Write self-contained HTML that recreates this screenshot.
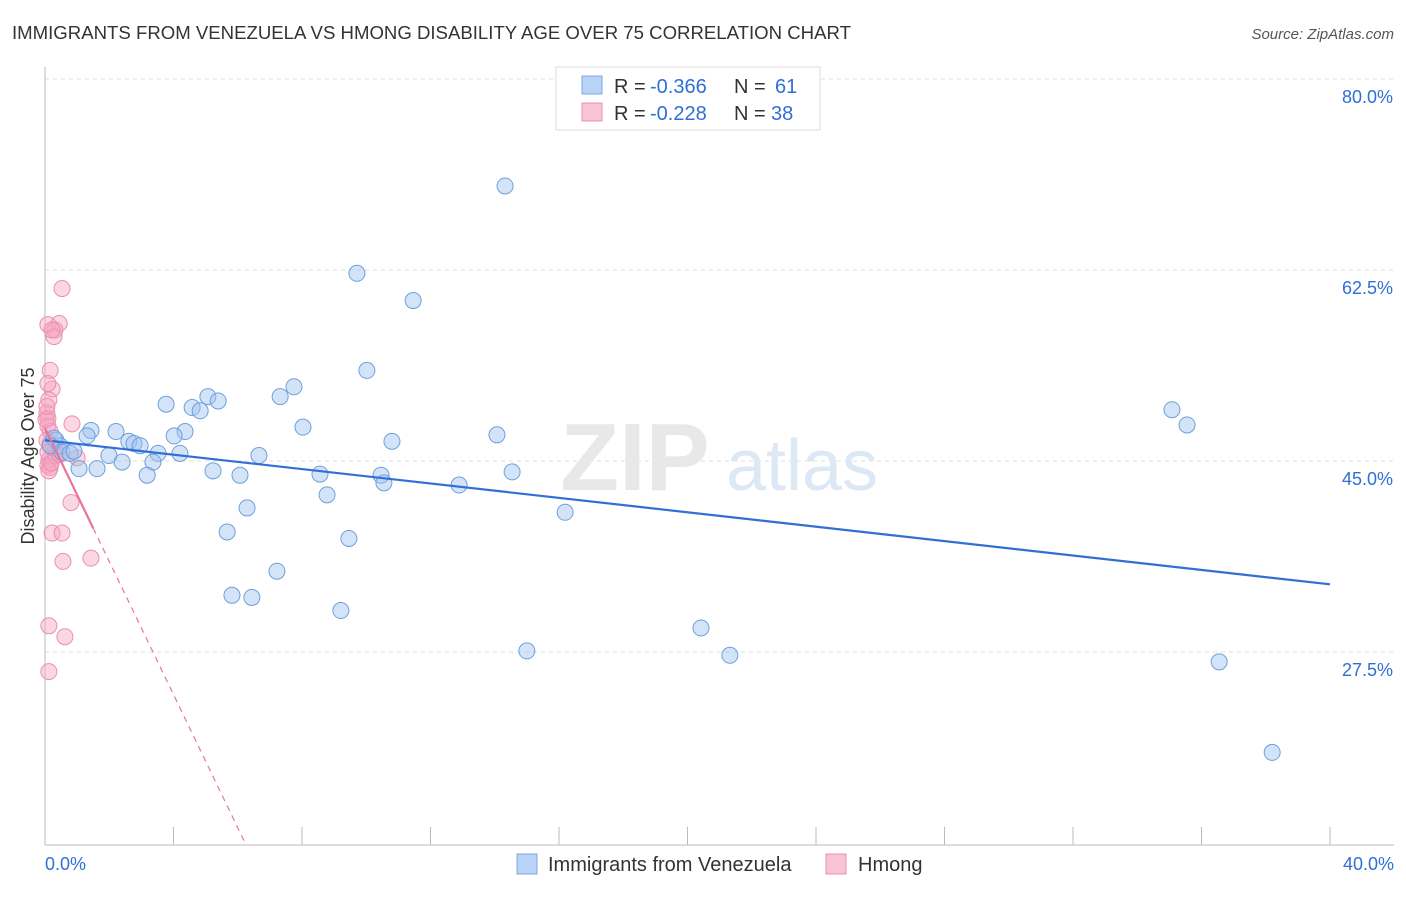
<!DOCTYPE html>
<html><head><meta charset="utf-8">
<style>
body{margin:0;background:#fff;font-family:"Liberation Sans",sans-serif;}
svg text{font-family:"Liberation Sans",sans-serif;}
</style></head>
<body>
<svg id="chart" width="1406" height="892" xmlns="http://www.w3.org/2000/svg">
<text x="12" y="39" font-size="18.6" fill="#333">IMMIGRANTS FROM VENEZUELA VS HMONG DISABILITY AGE OVER 75 CORRELATION CHART</text>
<text x="1394" y="39" font-size="15" fill="#555" font-style="italic" text-anchor="end">Source: ZipAtlas.com</text>
<text x="0" y="0" font-size="18" fill="#333" text-anchor="middle" transform="translate(34,456) rotate(-90)">Disability Age Over 75</text>
<g id="grid"></g>
<g>
<text x="635" y="490" font-size="96" fill="#e8e8e8" text-anchor="middle" font-family="Liberation Serif, serif" font-weight="bold">ZIP</text>
<text x="802" y="490" font-size="72" fill="#dde8f5" text-anchor="middle">atlas</text>
</g>
<g id="pts"></g>
<g id="lines"></g>
<g>
<rect x="556" y="67" width="264" height="63" fill="#fff" stroke="#ddd"/>
<rect x="582" y="76" width="20" height="18" fill="#b8d3f5" stroke="#7aa8e0"/>
<rect x="582" y="103" width="20" height="18" fill="#f9c5d5" stroke="#eb8fb0"/>
<text x="614" y="93" font-size="20" fill="#333">R =</text>
<text x="650" y="93" font-size="20" fill="#2f6fd6">-0.366</text>
<text x="734" y="93" font-size="20" fill="#333">N =</text>
<text x="775" y="93" font-size="20" fill="#2f6fd6">61</text>
<text x="614" y="120" font-size="20" fill="#333">R =</text>
<text x="650" y="120" font-size="20" fill="#2f6fd6">-0.228</text>
<text x="734" y="120" font-size="20" fill="#333">N =</text>
<text x="771" y="120" font-size="20" fill="#2f6fd6">38</text>
</g>
<g>
<rect x="517" y="854" width="20" height="20" fill="#b8d3f5" stroke="#7aa8e0"/>
<text x="548" y="871" font-size="20" fill="#333">Immigrants from Venezuela</text>
<rect x="826" y="854" width="20" height="20" fill="#f9c5d5" stroke="#eb8fb0"/>
<text x="858" y="871" font-size="20" fill="#333">Hmong</text>
</g>
</svg>
<script>
const xTicks=[0,4,8,12,16,20,24,28,32,36,40];
const yTicks=[80,62.5,45,27.5];
const yTickLabels=["80.0%","62.5%","45.0%","27.5%"];
const blueX=[14.32,9.71,11.46,10.02,7.75,7.32,5.07,5.39,3.77,4.58,4.83,35.08,35.55,8.03,4.36,4.02,2.21,1.43,1.31,14.07,10.80,2.61,2.77,2.96,0.34,0.47,0.53,0.78,0.90,1.99,3.52,4.20,6.66,3.36,2.40,1.06,1.62,5.23,6.07,8.56,10.46,14.54,3.18,10.55,12.89,8.78,6.29,16.19,5.67,9.46,7.22,5.82,6.44,9.21,20.42,15.00,21.32,36.55,38.20,0.28,0.16];
const blueY=[70.2,62.2,59.7,53.3,51.8,50.9,50.9,50.5,50.2,49.9,49.6,49.7,48.3,48.1,47.7,47.3,47.7,47.8,47.3,47.4,46.8,46.8,46.6,46.4,46.9,46.4,45.8,45.7,45.9,45.5,45.7,45.7,45.5,44.9,44.9,44.3,44.3,44.1,43.7,43.8,43.7,44.0,43.7,43.0,42.8,41.9,40.7,40.3,38.5,37.9,34.9,32.7,32.5,31.3,29.7,27.6,27.2,26.6,18.3,47.1,46.4];
const pinkX=[0.53,0.09,0.44,0.31,0.28,0.16,0.22,0.09,0.12,0.06,0.09,0.84,0.09,0.16,0.25,0.31,1.00,0.12,0.09,0.16,0.12,0.81,0.22,0.53,0.56,1.43,0.12,0.62,0.12,0.03,0.06,0.16,0.09,0.34,0.22,0.06,0.19,0.47];
const pinkY=[60.8,57.5,57.6,57.0,56.4,53.3,51.6,52.1,50.6,49.4,48.9,48.4,48.2,47.7,46.2,45.8,45.3,45.1,44.6,44.4,44.1,41.2,38.4,38.4,35.8,36.1,29.9,28.9,25.7,48.8,46.9,46.6,45.8,45.5,57.0,50.0,44.8,45.6];
const blueTrend=[46.9,33.7];
const pinkTrend=[48.0,-6.1];
const NS="http://www.w3.org/2000/svg";
const X=v=>45+v*(1285/40);
const Y=v=>79+(80-v)*(191/17.5);
function mk(tag,attrs,parent){const e=document.createElementNS(NS,tag);for(const k in attrs)e.setAttribute(k,attrs[k]);parent.appendChild(e);return e;}
const grid=document.getElementById('grid');
yTicks.forEach((t,i)=>{
  const l=mk('line',{x1:45,x2:1394,y1:Y(t),y2:Y(t),stroke:'#ddd','stroke-dasharray':'4,4'},grid);
  
  
  const tx=mk('text',{x:1393,y:Y(t)+24,'font-size':18,fill:'#2f6fd6','text-anchor':'end'},grid);
  tx.textContent=yTickLabels[i];
  
  
});
const ax=mk('line',{x1:45,x2:1394,y1:845,y2:845,stroke:'#bbb'},grid);


const ay=mk('line',{x1:45,x2:45,y1:67,y2:845,stroke:'#bbb'},grid);


xTicks.forEach(t=>{
  const l=mk('line',{x1:X(t),x2:X(t),y1:827,y2:845,stroke:'#bbb'},grid);
  
  
});
const xl0=mk('text',{x:45,y:870,'font-size':18,fill:'#2f6fd6'},grid);xl0.textContent=xTicks[0].toFixed(1)+'%';


const xl1=mk('text',{x:1394,y:870,'font-size':18,fill:'#2f6fd6','text-anchor':'end'},grid);xl1.textContent=xTicks[xTicks.length-1].toFixed(1)+'%';


const pts=document.getElementById('pts');
pinkX.forEach((x,i)=>{
  const c=mk('circle',{cx:X(x),cy:Y(pinkY[i]),r:8,fill:'rgba(246,165,192,0.45)',stroke:'#eb8fb0','stroke-width':1},pts);
  
  
});
blueX.forEach((x,i)=>{
  const c=mk('circle',{cx:X(x),cy:Y(blueY[i]),r:8,fill:'rgba(160,196,240,0.45)',stroke:'#6f9fdc','stroke-width':1},pts);
  
  
});
const lines=document.getElementById('lines');
const bl=mk('line',{x1:X(0),y1:Y(blueTrend[0]),x2:X(40),y2:Y(blueTrend[1]),stroke:'#2f6fd6','stroke-width':2.2},lines);


const pf=x=>pinkTrend[0]+pinkTrend[1]*x;
const xEnd=(pinkTrend[0]-9.8)/(-pinkTrend[1]);
const pd=mk('line',{x1:X(1.5),y1:Y(pf(1.5)),x2:X(xEnd),y2:Y(pf(xEnd)),stroke:'#e8759c','stroke-width':1.2,'stroke-dasharray':'6,5'},lines);


const ps=mk('line',{x1:X(0),y1:Y(pf(0)),x2:X(1.5),y2:Y(pf(1.5)),stroke:'#e8759c','stroke-width':2.2},lines);


</script>
</body></html>
